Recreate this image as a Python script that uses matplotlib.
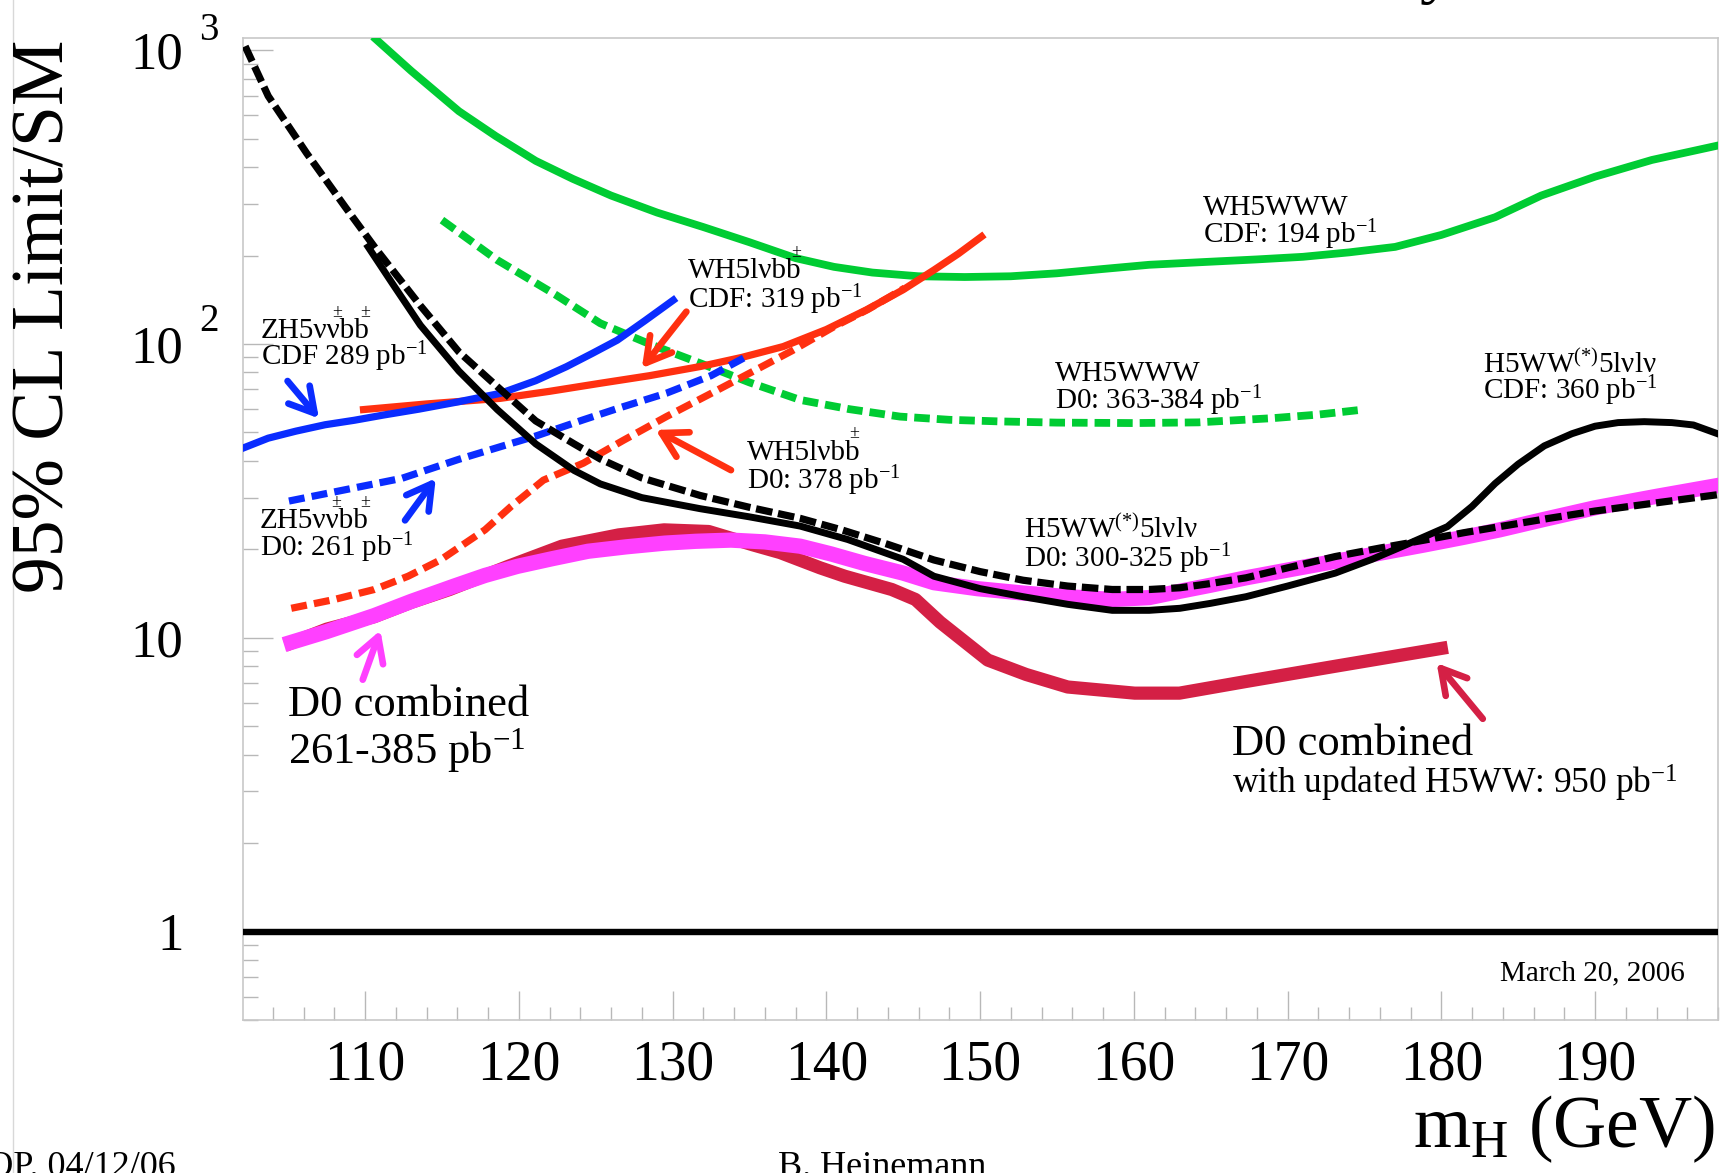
import matplotlib
matplotlib.use('Agg')
import matplotlib.pyplot as plt
from matplotlib.ticker import MultipleLocator, LogLocator, NullFormatter
from matplotlib.lines import Line2D
from matplotlib.transforms import blended_transform_factory

# --- data (mH in GeV, limit / SM) ---
mass_ticks = [110, 120, 130, 140, 150, 160, 170, 180, 190]
limit_ticks = [1, 10, 100, 1000]
limit_labels = ['1', '10', '10', '10']

ww_cdf_solid_green_x = [110.7, 113.0, 116.1, 118.5, 121.1, 123.5, 126.0, 129.0, 132.0, 135.0,
                        138.0, 140.5, 143.0, 146.0, 149.0, 152.0, 155.0, 158.0, 161.0, 164.5,
                        168.0, 171.0, 174.0, 177.0, 180.0, 183.5, 186.5, 190.0, 193.7, 198.1]
ww_cdf_solid_green_y = [1090, 850, 620, 510, 420, 365, 320, 280, 250, 222,
                        196, 183, 175, 170, 169, 170, 174, 180, 186, 190,
                        194, 198, 205, 214, 235, 270, 320, 371, 423, 475]

www_d0_x = [115.0, 118.6, 122.4, 125.3, 128.5, 131.8, 135.0, 138.3, 141.5, 144.8,
            148.0, 151.3, 155.0, 160.0, 164.2, 169.0, 172.0, 174.8]
www_d0_y = [264, 193, 147, 117.6, 100, 86, 74, 64.5, 60, 56.6,
            55.2, 54.5, 54.0, 53.8, 54.1, 55.9, 57.5, 59.7]

hww_d0_x = [102.2, 103.7, 106.2, 108.7, 110.7, 113.6, 116.1, 118.6, 121.1, 123.6,
            125.3, 128.0, 131.8, 135.0, 138.3, 141.0, 144.0, 147.0, 150.0, 152.8,
            155.7, 158.6, 161.0, 163.0, 165.0, 167.3, 170.0, 173.1, 176.0, 178.9,
            181.5, 183.8, 187.0, 190.0, 194.0, 198.0]
hww_d0_y = [1031, 698, 446, 293, 211, 135, 94, 71.6, 54.7, 45.7,
            40.6, 35.0, 30.5, 27.8, 25.5, 23.3, 20.8, 18.4, 16.8, 15.7,
            15.0, 14.6, 14.6, 14.8, 15.3, 16.0, 17.3, 18.9, 20.2, 21.5,
            22.8, 23.9, 25.5, 27.0, 28.8, 30.7]

hww_cdf_x = [110.2, 111.8, 113.6, 116.1, 118.6, 121.1, 123.6, 125.3, 128.0, 131.8,
             135.0, 138.3, 141.4, 145.0, 147.0, 150.0, 152.8, 155.7, 158.6, 161.0,
             163.0, 165.0, 167.3, 170.0, 173.1, 175.5, 177.5, 180.4, 182.0, 183.5,
             185.0, 186.7, 188.5, 190.0, 191.5, 193.2, 195.0, 196.4, 198.2]
hww_cdf_y = [214, 160, 115.8, 80.9, 59.8, 45.7, 37.1, 33.4, 30.0, 27.5,
             25.8, 24.0, 21.6, 18.5, 16.2, 14.7, 13.8, 13.0, 12.4, 12.4,
             12.6, 13.1, 13.8, 15.0, 16.6, 18.5, 20.5, 23.9, 28.0, 33.5,
             39.0, 45.0, 49.5, 52.5, 54.0, 54.4, 54.0, 53.0, 49.0]

zh_cdf_x = [102.1, 103.7, 105.5, 107.4, 109.3, 111.2, 113.5, 116.1, 118.8, 121.1,
            123.1, 124.8, 126.4, 128.2, 130.05]
zh_cdf_y = [44.3, 47.8, 50.5, 53.1, 55.0, 57.3, 60.0, 63.6, 67.9, 75.0,
            83.7, 93, 103, 120, 141]

zh_d0_x = [105.05, 108.7, 112.4, 116.1, 118.8, 121.1, 124.2, 126.5, 129.6, 132.5, 134.8]
zh_d0_y = [29.2, 31.9, 34.9, 40.5, 44.7, 48.6, 55.2, 60.5, 68, 78, 90.6]

wh_cdf_x = [109.9, 114.0, 118.8, 122.0, 125.3, 128.5, 131.8, 134.5, 137.2, 140.0,
            142.6, 145.0, 147.0, 148.6, 150.1]
wh_cdf_y = [59.8, 62.5, 65.3, 69, 73.5, 78, 83.8, 90, 98, 112,
            130.6, 153, 178.5, 203, 232]

wh_d0_x = [105.2, 108.0, 110.6, 112.8, 114.9, 117.8, 119.5, 121.6, 124.2, 126.8,
           129.6, 132.3, 135.0, 137.8, 140.5, 142.7, 145.1]
wh_d0_y = [12.6, 13.5, 14.6, 16.2, 18.4, 23.3, 28.0, 34.4, 39.3, 47,
           56.6, 67, 79.5, 95, 114.5, 131, 155]

d0_comb_x = [105.2, 107.5, 110.6, 113.0, 115.8, 117.8, 119.9, 122.2, 124.5, 127.0,
             129.5, 131.5, 133.8, 136.0, 138.3, 140.3, 142.5, 145.0, 147.0, 149.8,
             152.8, 155.7, 158.6, 161.0, 163.0, 165.0, 167.3, 170.0, 173.1, 176.0,
             178.9, 181.5, 183.8, 186.7, 190.0, 194.0, 198.0]
d0_comb_y = [9.65, 10.5, 11.9, 13.3, 15.0, 16.3, 17.5, 18.6, 19.7, 20.4,
             21.0, 21.3, 21.5, 21.2, 20.5, 19.3, 17.9, 16.6, 15.4, 14.7,
             14.2, 13.8, 13.5, 13.7, 14.4, 15.1, 16.0, 17.0, 18.2, 19.4,
             20.7, 22.0, 23.3, 25.3, 27.7, 30.3, 33.0]

d0_new_x = [105.2, 107.5, 110.6, 113.0, 115.5, 119.3, 122.8, 126.5, 129.45, 132.35,
            135.25, 137.0, 139.6, 141.2, 144.26, 145.8, 147.4, 150.5, 153.0, 155.7,
            160.06, 162.97, 167.3, 173.1, 180.0]
d0_new_y = [9.6, 10.7, 11.8, 13.2, 14.6, 17.5, 20.5, 22.4, 23.3, 23.0,
            20.7, 19.5, 17.3, 16.2, 14.6, 13.5, 11.3, 8.4, 7.5, 6.8,
            6.48, 6.48, 7.1, 8.0, 9.2]

GREEN = '#00cc33'
RED = '#ff3010'
BLUE = '#0a2cff'
MAGENTA = '#ff40ff'
CRIMSON = '#d42045'

plt.rcParams['font.family'] = ['Liberation Serif', 'DejaVu Serif']
plt.rcParams['mathtext.fontset'] = 'custom'
plt.rcParams['mathtext.rm'] = 'Liberation Serif'
plt.rcParams['mathtext.it'] = 'Liberation Serif:italic'
plt.rcParams['mathtext.bf'] = 'Liberation Serif:bold'

fig = plt.figure(figsize=(17.27, 11.73), dpi=100)
ax = fig.add_axes([0.1407, 0.1304, 0.8541, 0.8372])
ax.set_yscale('log')

# curves
ax.plot(d0_new_x, d0_new_y, color=CRIMSON, lw=9.5, zorder=2)
ax.plot(d0_comb_x, d0_comb_y, color=MAGENTA, lw=11, zorder=3)
ax.plot(ww_cdf_solid_green_x, ww_cdf_solid_green_y, color=GREEN, lw=5.6, zorder=4)
ax.plot(www_d0_x, www_d0_y, color=GREEN, lw=5.6, dashes=(2.0, 0.9), zorder=4)
ax.plot(wh_cdf_x, wh_cdf_y, color=RED, lw=5.2, zorder=5)
ax.plot(wh_d0_x, wh_d0_y, color=RED, lw=5.2, dashes=(2.2, 1.0), zorder=5)
ax.plot(zh_cdf_x, zh_cdf_y, color=BLUE, lw=5.2, zorder=6)
ax.plot(zh_d0_x, zh_d0_y, color=BLUE, lw=5.2, dashes=(2.2, 1.0), zorder=6)
ax.plot(hww_cdf_x, hww_cdf_y, color='black', lw=5.0, zorder=7)
ax.plot(hww_d0_x, hww_d0_y, color='black', lw=5.2, dashes=(2.3, 0.8), zorder=7)
ax.axhline(1, color='black', lw=4.6, zorder=8)

ax.set_xlim(102.06, 198.0)
ax.set_ylim(0.5, 1100)

# axes styling
for s in ax.spines.values():
    s.set_color('#c8c8c8')
    s.set_linewidth(1.2)

ax.set_xticks(mass_ticks)
ax.set_xticklabels([str(t) for t in mass_ticks])
ax.xaxis.set_minor_locator(MultipleLocator(2))
ax.tick_params(axis='x', which='major', direction='in', length=21, width=1,
               color='#b8b8b8', pad=14, labelsize=40)
ax.tick_params(axis='x', which='minor', direction='in', length=9.5, width=1, color='#b8b8b8')

ax.set_yticks(limit_ticks)
ax.set_yticklabels(limit_labels)
ax.yaxis.set_minor_locator(LogLocator(base=10, subs=range(2, 10), numticks=20))
ax.yaxis.set_minor_formatter(NullFormatter())
ax.tick_params(axis='y', which='major', direction='in', length=21.6, width=1,
               color='#b8b8b8', pad=43, labelsize=38)
ax.tick_params(axis='y', which='minor', direction='in', length=11, width=1, color='#b8b8b8')

trans = blended_transform_factory(ax.transAxes, ax.transData)
ax.text(-0.0295, 119.3, '2', transform=trans, fontsize=28, ha='left', va='center', clip_on=False)
ax.text(-0.0295, 1164, '3', transform=trans, fontsize=28, ha='left', va='center', clip_on=False)


def label(x, y, s, fs=21, ha='left'):
    ax.annotate(s, xy=(x, y), xytext=(0, -0.33 * fs), textcoords='offset points',
                fontsize=fs, ha=ha, va='baseline', zorder=10)


def pm(x, y, ems, fs=21):
    for e in ems:
        ax.annotate('±', xy=(x, y), xytext=(e * fs, 11.5), textcoords='offset points',
                    fontsize=13, ha='center', va='center', zorder=10)


def arrow(tail, head, color):
    ax.annotate('', xy=head, xytext=tail,
                arrowprops=dict(arrowstyle='->,head_length=0.7,head_width=0.4',
                                lw=4.8, color=color, shrinkA=0, shrinkB=0,
                                mutation_scale=25), zorder=9)


inv = r'pb$^{\mathrm{-1}}$'

label(103.2, 113, 'ZH5ννbb')
pm(103.2, 113, [2.62, 3.6])
label(103.2, 91.2, 'CDF 289 ' + inv)
label(103.15, 25.5, 'ZH5ννbb')
pm(103.15, 25.5, [2.62, 3.6])
label(103.15, 20.4, 'D0: 261 ' + inv)

label(131.03, 180.8, 'WH5lνbb')
pm(131.03, 180.8, [3.69])
label(131.03, 142.8, 'CDF: 319 ' + inv)
label(134.82, 43.6, 'WH5lνbb')
pm(134.82, 43.6, [3.69])
label(134.82, 34.4, 'D0: 378 ' + inv)

label(164.48, 297, 'WH5WWW')
label(164.48, 238, 'CDF: 194 ' + inv)
label(154.9, 80.5, 'WH5WWW')
label(154.9, 64.4, 'D0: 363-384 ' + inv)

label(182.69, 86.0, r'H5WW$^{\mathrm{(*)}}$5lνlν')
label(182.69, 69.8, 'CDF: 360 ' + inv)
label(152.88, 23.6, r'H5WW$^{\mathrm{(*)}}$5lνlν')
label(152.88, 18.7, 'D0: 300-325 ' + inv)

label(104.98, 6.1, 'D0 combined', fs=32)
label(104.98, 4.21, '261-385 ' + inv, fs=32)
label(166.37, 4.47, 'D0 combined', fs=32)
label(166.37, 3.22, 'with updated H5WW: 950 ' + inv, fs=25.5)
label(195.85, 0.737, 'March 20, 2006', fs=21, ha='right')

arrow((104.96, 74.8), (107.0, 55.8), BLUE)
arrow((112.6, 25.1), (114.6, 34.9), BLUE)
arrow((130.9, 128.8), (128.0, 82.7), RED)
arrow((133.8, 37.2), (128.9, 51.0), RED)
arrow((109.85, 7.2), (111.0, 10.6), MAGENTA)
arrow((182.7, 5.3), (179.7, 8.2), CRIMSON)

# page furniture
fig.text(46 / 1727, 1 - 316 / 1173, '95% CL Limit/SM', rotation=90,
         ha='center', va='center', fontsize=53)
fig.text(1715 / 1727, 1 - 1147 / 1173, r'm$_{\mathrm{H}}$ (GeV)',
         ha='right', va='baseline', fontsize=53)
fig.text(0.8425, 1.0085, 'Tevatron Run II Preliminary', ha='right', va='baseline', fontsize=50)
fig.text(176 / 1727, -0.0026, 'DOP. 04/12/06', ha='right', va='baseline', fontsize=26)
fig.text(778 / 1727, -0.0026, 'B. Heinemann', ha='left', va='baseline', fontsize=26)
fig.add_artist(Line2D([13 / 1727, 13 / 1727], [0, 1], color='#d8d8d8', lw=1))

fig.savefig('out.png', dpi=100)
